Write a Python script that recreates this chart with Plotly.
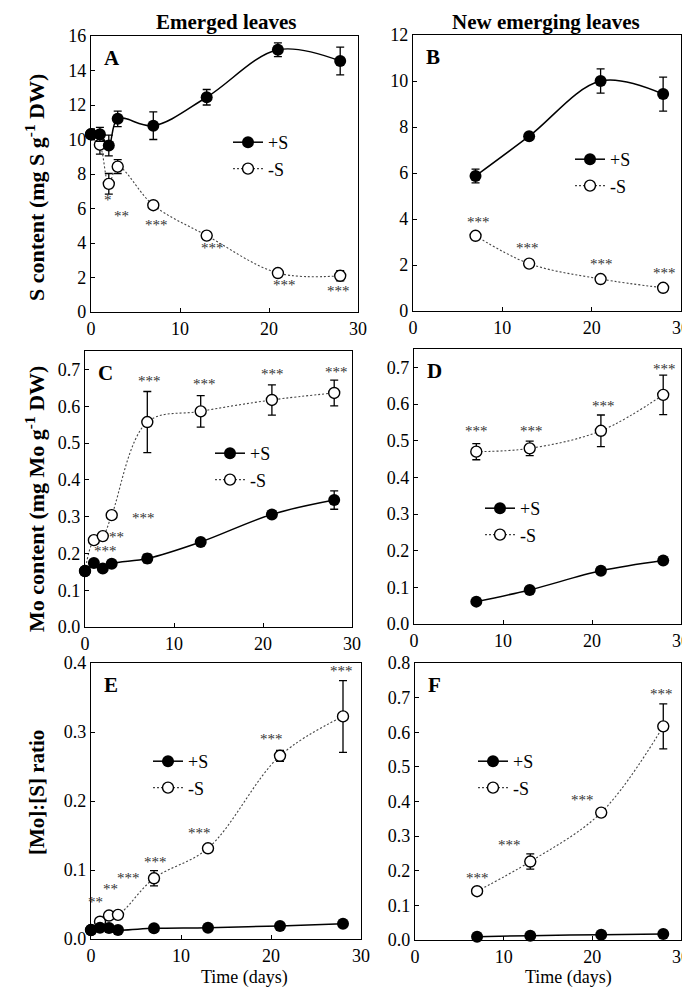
import plotly.graph_objects as go

# ---------------- data ----------------
days_em = [0, 1, 2, 3, 7, 13, 21, 28]
days_new = [7, 13, 21, 28]

# Panel A: S content, emerged leaves
A_plus = [10.3, 10.3, 9.65, 11.2, 10.8, 12.45, 15.2, 14.55]
A_plus_err = [0.3, 0.4, 0.6, 0.45, 0.8, 0.45, 0.4, 0.8]
A_minus = [10.3, 9.7, 7.43, 8.43, 6.19, 4.43, 2.26, 2.1]
A_minus_err = [0.3, 0.55, 0.6, 0.4, 0.2, 0.2, 0.15, 0.3]

# Panel B: S content, new emerging leaves
B_plus = [5.87, 7.6, 10.0, 9.43]
B_plus_err = [0.3, 0.1, 0.53, 0.74]
B_minus = [3.27, 2.06, 1.39, 1.01]
B_minus_err = [0.12, 0.15, 0.12, 0.12]

# Panel C: Mo content, emerged leaves
C_plus = [0.152, 0.174, 0.159, 0.172, 0.186, 0.231, 0.306, 0.345]
C_plus_err = [0.008, 0.008, 0.006, 0.008, 0.012, 0.006, 0.01, 0.025]
C_minus = [0.152, 0.236, 0.247, 0.304, 0.557, 0.586, 0.617, 0.636]
C_minus_err = [0.008, 0.01, 0.008, 0.01, 0.083, 0.043, 0.041, 0.035]

# Panel D: Mo content, new emerging leaves
D_plus = [0.061, 0.093, 0.145, 0.173]
D_plus_err = [0.004, 0.004, 0.005, 0.005]
D_minus = [0.47, 0.479, 0.527, 0.625]
D_minus_err = [0.022, 0.02, 0.043, 0.054]

# Panel E: [Mo]:[S] ratio, emerged leaves
E_plus = [0.013, 0.0164, 0.016, 0.013, 0.0155, 0.0164, 0.019, 0.022]
E_plus_err = [0.001, 0.001, 0.001, 0.001, 0.001, 0.001, 0.001, 0.001]
E_minus = [0.013, 0.025, 0.034, 0.035, 0.088, 0.1315, 0.2655, 0.3226]
E_minus_err = [0.001, 0.005, 0.004, 0.004, 0.011, 0.005, 0.008, 0.052]

# Panel F: [Mo]:[S] ratio, new emerging leaves
F_plus = [0.0096, 0.0125, 0.0154, 0.0173]
F_plus_err = [0.001, 0.001, 0.001, 0.001]
F_minus = [0.141, 0.2265, 0.368, 0.617]
F_minus_err = [0.01, 0.022, 0.01, 0.065]

# significance labels: (day, y, text)
A_sig = [(1.9, 6.5, "*"), (3.45, 5.55, "**"), (7.4, 5.07, "***"), (13.7, 3.7, "***"),
         (21.7, 1.55, "***"), (27.8, 1.24, "***")]
B_sig = [(7.3, 3.88, "***"), (12.8, 2.72, "***"), (21.1, 2.03, "***"), (28.1, 1.64, "***")]
C_sig = [(2.3, 0.206, "***"), (3.55, 0.245, "**"), (6.55, 0.295, "***"), (7.2, 0.668, "***"),
         (13.4, 0.661, "***"), (21.1, 0.688, "***"), (28.3, 0.693, "***")]
D_sig = [(7.0, 0.526, "***"), (13.2, 0.526, "***"), (21.3, 0.595, "***"), (28.1, 0.695, "***")]
E_sig = [(0.5, 0.053, "**"), (2.15, 0.0725, "**"), (4.2, 0.089, "***"), (7.2, 0.111, "***"),
         (12.1, 0.153, "***"), (20.1, 0.29, "***"), (27.8, 0.388, "***")]
F_sig = [(7.0, 0.18, "***"), (10.7, 0.273, "***"), (18.9, 0.405, "***"), (27.8, 0.711, "***")]

# ---------------- layout helpers ----------------
W, H = 690, 988
FONT = "Liberation Serif, Times New Roman, serif"


def px(x):
    return x / W


def py(y):
    return 1 - y / H


panels = [
    # letter, x, plus, plus_err, minus, minus_err, sig, yrange, dtick, fmt, box(px), legend pos(px)
    ("A", days_em, A_plus, A_plus_err, A_minus, A_minus_err, A_sig, [0, 16], 2, "d", (83, 350, 28, 304), (220, 116)),
    ("B", days_new, B_plus, B_plus_err, B_minus, B_minus_err, B_sig, [0, 12], 2, "d", (405, 673, 27, 303), (562, 133)),
    ("C", days_em, C_plus, C_plus_err, C_minus, C_minus_err, C_sig, [0, 0.75], 0.1, ".1f", (77, 344, 343, 619), (202, 427)),
    ("D", days_new, D_plus, D_plus_err, D_minus, D_minus_err, D_sig, [0, 0.75], 0.1, ".1f", (406, 673, 341, 616), (472, 482)),
    ("E", days_em, E_plus, E_plus_err, E_minus, E_minus_err, E_sig, [0, 0.4], 0.1, ".1f", (83, 353, 655, 931), (140, 735)),
    ("F", days_new, F_plus, F_plus_err, F_minus, F_minus_err, F_sig, [0, 0.8], 0.1, ".1f", (407, 673, 655, 932), (465, 735)),
]

fig = go.Figure()
annotations = []
layout_axes = {}

for i, (letter, xs, yp, ep, ym, em, sig, yr, dt, fmt, box, lpos) in enumerate(panels):
    n = i + 1
    xa = "x" if n == 1 else f"x{n}"
    ya = "y" if n == 1 else f"y{n}"
    lg = "legend" if n == 1 else f"legend{n}"
    x0, x1, y0, y1 = box

    fig.add_trace(go.Scatter(
        x=xs, y=ym, name="-S", mode="lines+markers", xaxis=xa, yaxis=ya, legend=lg,
        legendrank=2, cliponaxis=False,
        line=dict(color="#444444", width=1.1, dash="2px,2px", shape="spline", smoothing=1.0),
        marker=dict(symbol="circle", size=11, color="white", line=dict(color="black", width=1.4)),
        error_y=dict(type="data", array=em, visible=True, color="black", thickness=1.3, width=4),
    ))
    fig.add_trace(go.Scatter(
        x=xs, y=yp, name="+S", mode="lines+markers", xaxis=xa, yaxis=ya, legend=lg,
        legendrank=1, cliponaxis=False,
        line=dict(color="black", width=1.5, shape="spline", smoothing=1.0),
        marker=dict(symbol="circle", size=12, color="black"),
        error_y=dict(type="data", array=ep, visible=True, color="black", thickness=1.3, width=4),
    ))

    axis_common = dict(
        showline=True, linecolor="black", linewidth=1.3, mirror=True,
        ticks="inside", ticklen=4, tickcolor="black", tickwidth=1,
        showgrid=False, zeroline=False, automargin=False,
        tickfont=dict(family=FONT, size=18, color="black"),
    )
    xkey = "xaxis" if n == 1 else f"xaxis{n}"
    ykey = "yaxis" if n == 1 else f"yaxis{n}"
    layout_axes[xkey] = dict(axis_common, domain=[px(x0), px(x1)], range=[0, 30], dtick=10,
                             tick0=0, anchor=ya)
    layout_axes[ykey] = dict(axis_common, domain=[py(y1), py(y0)], range=yr, dtick=dt, tick0=0,
                             tickformat=fmt, anchor=xa)

    layout_axes[lg] = dict(
        x=px(lpos[0]), y=py(lpos[1]), xanchor="left", yanchor="top",
        bgcolor="rgba(0,0,0,0)", borderwidth=0,
        font=dict(family=FONT, size=18, color="black"),
        tracegroupgap=0, itemwidth=30,
    )

    # panel letter
    annotations.append(dict(
        text=f"<b>{letter}</b>", x=px(x0 + 11), y=py(y0 + 22), xref="paper", yref="paper",
        xanchor="left", yanchor="middle", showarrow=False,
        font=dict(family=FONT, size=21, color="black"),
    ))
    for sx, sy, st in sig:
        annotations.append(dict(
            text=st, x=sx, y=sy, xref=xa, yref=ya, showarrow=False,
            xanchor="center", yanchor="middle",
            font=dict(family=FONT, size=15, color="#333333"),
        ))

# column titles
annotations.append(dict(text="<b>Emerged leaves</b>", x=px(218), y=py(14), xref="paper", yref="paper",
                        showarrow=False, xanchor="center", yanchor="middle",
                        font=dict(family=FONT, size=21, color="black")))
annotations.append(dict(text="<b>New emerging leaves</b>", x=px(538), y=py(14), xref="paper", yref="paper",
                        showarrow=False, xanchor="center", yanchor="middle",
                        font=dict(family=FONT, size=21, color="black")))
# y-axis titles
annotations.append(dict(text="<b>S content (mg S g<sup>-1</sup> DW)</b>", x=px(27), y=py(180),
                        xref="paper", yref="paper", showarrow=False, textangle=-90,
                        xanchor="center", yanchor="middle",
                        font=dict(family=FONT, size=22, color="black")))
annotations.append(dict(text="<b>Mo content (mg Mo g<sup>-1</sup> DW)</b>", x=px(27), y=py(491),
                        xref="paper", yref="paper", showarrow=False, textangle=-90,
                        xanchor="center", yanchor="middle",
                        font=dict(family=FONT, size=22, color="black")))
annotations.append(dict(text="<b>[Mo]:[S] ratio</b>", x=px(29), y=py(785),
                        xref="paper", yref="paper", showarrow=False, textangle=-90,
                        xanchor="center", yanchor="middle",
                        font=dict(family=FONT, size=21, color="black")))
# x-axis titles
annotations.append(dict(text="Time (days)", x=px(236), y=py(969), xref="paper", yref="paper",
                        showarrow=False, xanchor="center", yanchor="middle",
                        font=dict(family=FONT, size=18, color="black")))
annotations.append(dict(text="Time (days)", x=px(560), y=py(969), xref="paper", yref="paper",
                        showarrow=False, xanchor="center", yanchor="middle",
                        font=dict(family=FONT, size=18, color="black")))

fig.update_layout(
    width=W, height=H,
    margin=dict(l=0, r=0, t=0, b=0),
    paper_bgcolor="white", plot_bgcolor="white",
    showlegend=True,
    annotations=annotations,
    **layout_axes,
)

fig.write_html("out.html")
